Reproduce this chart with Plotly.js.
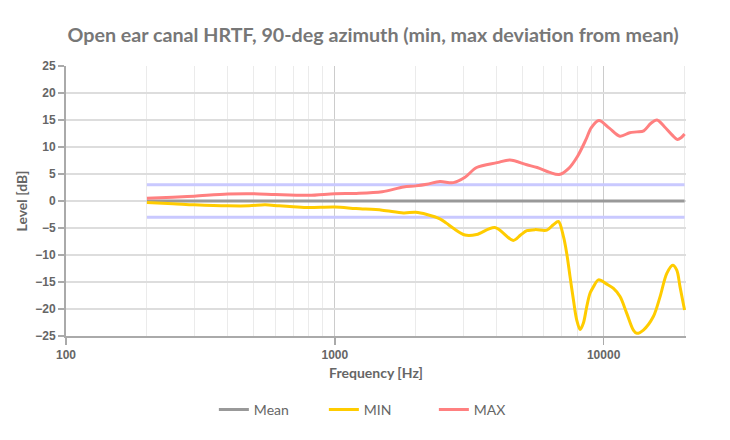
<!DOCTYPE html>
<html>
<head>
<meta charset="utf-8">
<script src="https://cdn.plot.ly/plotly-3.0.1.min.js"></script>
<style>html,body{margin:0;padding:0;background:#fff;}#chart{width:730px;height:440px;}</style>
</head>
<body>
<div id="chart"></div>
<script>
// ---- data ----
const refFreq = [200, 20000];
const meanValues = [0, 0];
const upperBand = [3, 3];
const lowerBand = [-3, -3];

const maxFreq = [200, 250, 300, 400, 500, 600, 800, 1000, 1200, 1500, 1800, 2000, 2200, 2460, 2760, 3050, 3370, 4010, 4480, 5180, 5660, 6300, 6830, 7400, 8000, 8580, 9000, 9600, 10500, 11500, 12500, 13300, 14100, 15000, 15800, 16800, 18000, 18800, 19400, 20000];
const maxValues = [0.5, 0.7, 0.9, 1.3, 1.35, 1.2, 1.05, 1.35, 1.4, 1.7, 2.6, 2.8, 3.1, 3.6, 3.4, 4.4, 6.2, 7.1, 7.6, 6.7, 6.2, 5.3, 4.9, 6.0, 8.3, 11.3, 13.6, 14.9, 13.5, 12.0, 12.65, 12.8, 13.0, 14.4, 15.0, 13.8, 12.2, 11.4, 11.7, 12.4];

const minFreq = [200, 250, 300, 400, 480, 550, 620, 700, 800, 1000, 1200, 1500, 1800, 2000, 2200, 2460, 2600, 2760, 3050, 3370, 3940, 4610, 4910, 5180, 5570, 6150, 6500, 6790, 7090, 7290, 7500, 7720, 7940, 8180, 8410, 8650, 8900, 9160, 9570, 10280, 10880, 11510, 12190, 12900, 13290, 14060, 15310, 16220, 17180, 18080, 18710, 19240, 20000];
const minValues = [-0.3, -0.5, -0.7, -0.9, -0.9, -0.7, -0.9, -1.05, -1.2, -1.1, -1.4, -1.7, -2.2, -2.1, -2.5, -3.3, -4.1, -5.05, -6.3, -6.2, -4.9, -7.3, -6.3, -5.5, -5.3, -5.4, -4.4, -3.8, -6.6, -9.7, -14.0, -18.3, -22.0, -23.8, -22.6, -19.6, -17.1, -15.9, -14.6, -15.4, -16.2, -17.7, -20.8, -23.9, -24.5, -23.9, -21.4, -17.7, -13.4, -11.9, -12.8, -15.9, -20.2];

const xTickVals = [100, 1000, 10000];
const xTickText = ['100', '1000', '10000'];
const xMinorVals = [200, 300, 400, 500, 600, 700, 800, 900, 2000, 3000, 4000, 5000, 6000, 7000, 8000, 9000, 20000];

const titleText = 'Open ear canal HRTF, 90-deg azimuth (min, max deviation from mean)';
const xTitle = 'Frequency [Hz]';
const yTitle = 'Level [dB]';

// ---- traces ----
const bandStyle = {color: '#c9c9ff', width: 3};
const traces = [
  {x: refFreq, y: upperBand, mode: 'lines', line: bandStyle, showlegend: false, hoverinfo: 'skip'},
  {x: refFreq, y: lowerBand, mode: 'lines', line: bandStyle, showlegend: false, hoverinfo: 'skip'},
  {x: refFreq, y: meanValues, mode: 'lines', name: 'Mean', line: {color: '#999999', width: 3}},
  {x: minFreq, y: minValues, mode: 'lines', name: 'MIN', line: {color: '#ffcc00', width: 3, shape: 'spline', smoothing: 0.9}},
  {x: maxFreq, y: maxValues, mode: 'lines', name: 'MAX', line: {color: '#ff8080', width: 3, shape: 'spline', smoothing: 0.9}}
];

const tickFont = {family: 'Liberation Sans, Arial, sans-serif', size: 12, color: '#666666', weight: 'bold'};
const lato = 'Lato, sans-serif';

const layout = {
  width: 730, height: 440,
  paper_bgcolor: '#ffffff', plot_bgcolor: '#ffffff',
  margin: {l: 66, r: 44, t: 66, b: 104},
  title: {text: titleText, font: {family: lato, size: 19.7, color: '#777777', weight: 'bold'}, x: 0.511, xanchor: 'center', y: 1 - 35/440, yanchor: 'middle', yref: 'container'},
  xaxis: {
    type: 'log', range: [2, Math.log10(20250)],
    tickmode: 'array', tickvals: xTickVals, ticktext: xTickText,
    tickfont: tickFont, ticks: 'outside', ticklen: 7, tickwidth: 1.5, tickcolor: '#aaaaaa',
    showline: true, linecolor: '#aaaaaa', linewidth: 2,
    showgrid: true, gridcolor: '#cccccc', gridwidth: 1,
    minor: {tickmode: 'array', tickvals: xMinorVals, showgrid: true, gridcolor: '#ebebeb', gridwidth: 1, ticks: ''},
    zeroline: false,
    title: {text: xTitle, font: {family: lato, size: 14, color: '#666666', weight: 'bold'}, standoff: 7}
  },
  yaxis: {
    range: [-25, 25], tickmode: 'linear', tick0: -25, dtick: 5,
    tickfont: tickFont, ticks: 'outside', ticklen: 6, tickwidth: 1.5, tickcolor: '#aaaaaa',
    showline: true, linecolor: '#aaaaaa', linewidth: 2,
    showgrid: true, gridcolor: '#dddddd', gridwidth: 1.5,
    zeroline: false,
    title: {text: yTitle, font: {family: lato, size: 14, color: '#666666', weight: 'bold'}, standoff: 4}
  },
  yaxis2: {
    overlaying: 'y', side: 'right', range: [-25, 25],
    showline: true, linecolor: '#c8c8c8', linewidth: 1.5,
    showgrid: false, showticklabels: false, ticks: '', zeroline: false
  },
  showlegend: true,
  legend: {
    orientation: 'h', xref: 'container', yref: 'container',
    x: 0.519, xanchor: 'center', y: 1 - 410/440, yanchor: 'middle',
    font: {family: lato, size: 14, color: '#666666'},
    bgcolor: 'rgba(0,0,0,0)', entrywidthmode: 'pixels', entrywidth: 65
  }
};

Plotly.newPlot('chart', traces, layout, {staticPlot: true, displayModeBar: false});
</script>
</body>
</html>
